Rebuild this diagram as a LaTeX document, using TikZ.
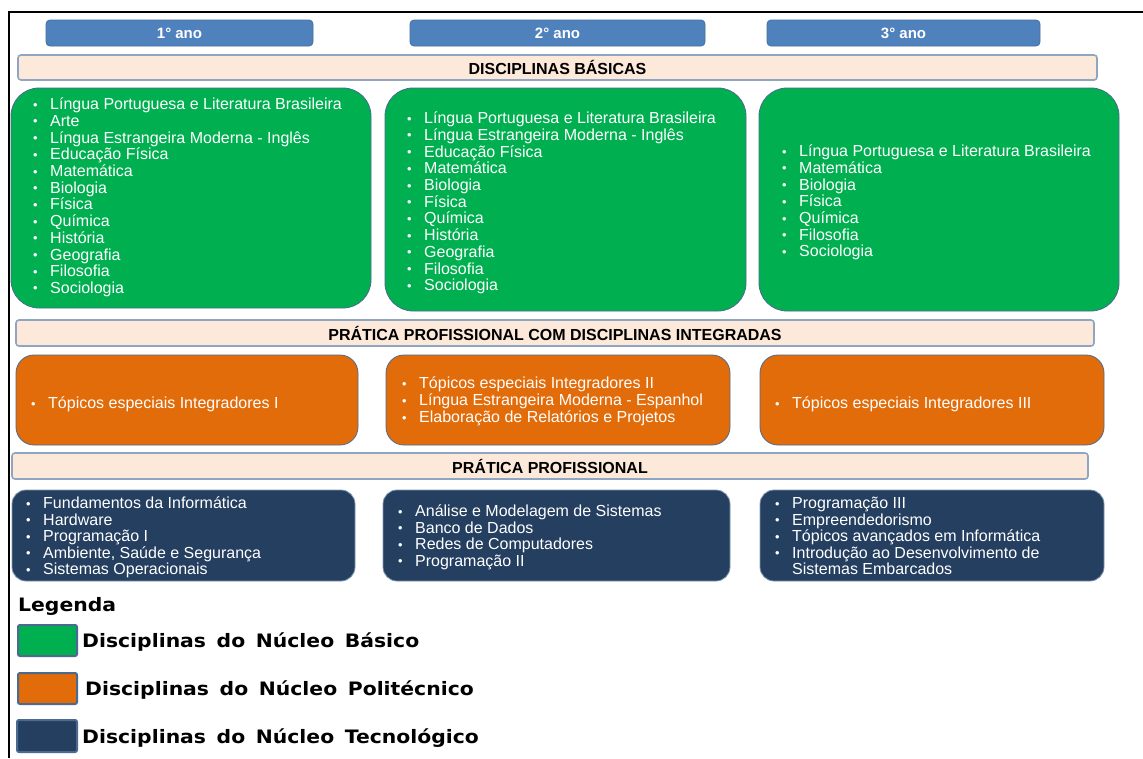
\documentclass[tikz,border=0pt]{standalone}
\usepackage{fontspec}
\setmainfont{Liberation Sans}
\newfontfamily\legfont[FakeStretch=1.1,WordSpace=1.5]{DejaVu Sans}
\usepackage{graphicx}
\definecolor{yearblue}{HTML}{4F81BD}
\definecolor{yearedge}{HTML}{41719C}
\definecolor{barfill}{HTML}{FDE9D9}
\definecolor{baredge}{HTML}{8FA5C2}
\definecolor{cgreen}{HTML}{00B050}
\definecolor{corange}{HTML}{E36C0A}
\definecolor{cnavy}{HTML}{243F60}
\definecolor{boxedge}{HTML}{4A6A90}
\newcommand\mkbox[7]{\node[#2, minimum width={(#5-#3)*1pt}, minimum height={(#6-#4)*1pt}] (#1) at ({(#3+#5)/2},{(#4+#6)/2}) {#7};}
\newcommand\itm[1]{\makebox[17pt][l]{\raisebox{0.5pt}{\scalebox{0.8}{\textbullet}}}#1}
\begin{document}
\begin{tikzpicture}[x=1pt,y=-1pt,
  yearbox/.style={fill=yearblue, draw=yearedge, line width=0.8pt, rounded corners=4pt, inner sep=0pt, text=white, font=\fontsize{15}{17}\selectfont\bfseries},
  barbox/.style={fill=barfill, draw=baredge, line width=1.6pt, rounded corners=3pt, inner sep=0pt, font=\fontsize{16}{18}\selectfont\bfseries},
  greenbox/.style={fill=cgreen, draw=boxedge, line width=0.8pt, rounded corners=28pt, inner sep=0pt},
  orangebox/.style={fill=corange, draw=boxedge, line width=0.8pt, rounded corners=18pt, inner sep=0pt},
  navybox/.style={fill=cnavy, draw=boxedge!70!white, line width=0.8pt, rounded corners=14pt, inner sep=0pt},
  gl/.style={anchor=north west, align=left, inner sep=0pt, text=white, font=\fontsize{16}{16.7}\selectfont},
  ol/.style={gl, font=\fontsize{16}{17}\selectfont},
  nl/.style={gl, font=\fontsize{16}{16.5}\selectfont},
  legsw/.style={draw=boxedge, line width=2pt, rounded corners=2pt, inner sep=0pt},
  legtx/.style={anchor=base west, inner sep=0pt, font=\fontsize{18.5}{20}\selectfont\legfont\bfseries}
]
\useasboundingbox (0,0) rectangle (1143,758);
\fill[white] (0,0) rectangle (1143,758);
\coordinate (fb) at (9,758);
\coordinate (fc) at (9,12);
\coordinate (fr) at (1143,12);
\draw[line width=2pt] (fb) -- (fc) -- (fr);

% year headers
\mkbox{y1}{yearbox}{46}{20}{313}{46}{1° ano}
\mkbox{y2}{yearbox}{410}{20}{705}{46}{2° ano}
\mkbox{y3}{yearbox}{767}{20}{1040}{46}{3° ano}

% bars
\mkbox{b1}{barbox}{18}{55}{1097}{80}{DISCIPLINAS BÁSICAS}
\mkbox{b2}{barbox}{16}{320}{1094}{346}{PRÁTICA PROFISSIONAL COM DISCIPLINAS INTEGRADAS}
\mkbox{b3}{barbox}{12}{453}{1088}{479}{PRÁTICA PROFISSIONAL}

% green boxes
\mkbox{g1}{greenbox}{11}{88}{371}{308}{}
\mkbox{g2}{greenbox}{385}{88}{746}{311}{}
\mkbox{g3}{greenbox}{759}{88}{1119}{311}{}
\node[gl] (g1t) at (33,94.5) {\rule{0pt}{15pt}\itm{Língua Portuguesa e Literatura Brasileira}\\
\itm{Arte}\\ \itm{Língua Estrangeira Moderna - Inglês}\\ \itm{Educação Física}\\
\itm{Matemática}\\ \itm{Biologia}\\ \itm{Física}\\ \itm{Química}\\ \itm{História}\\
\itm{Geografia}\\ \itm{Filosofia}\\ \itm{Sociologia}};
\node[gl] (g2t) at (407,108.5) {\rule{0pt}{15pt}\itm{Língua Portuguesa e Literatura Brasileira}\\
\itm{Língua Estrangeira Moderna - Inglês}\\ \itm{Educação Física}\\
\itm{Matemática}\\ \itm{Biologia}\\ \itm{Física}\\ \itm{Química}\\ \itm{História}\\
\itm{Geografia}\\ \itm{Filosofia}\\ \itm{Sociologia}};
\node[gl] (g3t) at (782,141.5) {\rule{0pt}{15pt}\itm{Língua Portuguesa e Literatura Brasileira}\\
\itm{Matemática}\\ \itm{Biologia}\\ \itm{Física}\\ \itm{Química}\\ \itm{Filosofia}\\ \itm{Sociologia}};

% orange boxes
\mkbox{o1}{orangebox}{16}{355}{358}{445}{}
\mkbox{o2}{orangebox}{386}{355}{730}{445}{}
\mkbox{o3}{orangebox}{760}{355}{1104}{445}{}
\node[ol] (o1t) at (31,393.5) {\rule{0pt}{15pt}\itm{Tópicos especiais Integradores I}};
\node[ol] (o2t) at (402,373.5) {\rule{0pt}{15pt}\itm{Tópicos especiais Integradores II}\\
\itm{Língua Estrangeira Moderna - Espanhol}\\ \itm{Elaboração de Relatórios e Projetos}};
\node[ol] (o3t) at (775,393.5) {\rule{0pt}{15pt}\itm{Tópicos especiais Integradores III}};

% navy boxes
\mkbox{n1}{navybox}{12}{490}{355}{581}{}
\mkbox{n2}{navybox}{383}{490}{730}{581}{}
\mkbox{n3}{navybox}{760}{490}{1104}{581}{}
\node[nl] (n1t) at (26,493.5) {\rule{0pt}{15pt}\itm{Fundamentos da Informática}\\ \itm{Hardware}\\
\itm{Programação I}\\ \itm{Ambiente, Saúde e Segurança}\\ \itm{Sistemas Operacionais}};
\node[nl] (n2t) at (398,501.5) {\rule{0pt}{15pt}\itm{Análise e Modelagem de Sistemas}\\ \itm{Banco de Dados}\\
\itm{Redes de Computadores}\\ \itm{Programação II}};
\node[nl] (n3t) at (775,493.5) {\rule{0pt}{15pt}\itm{Programação III}\\ \itm{Empreendedorismo}\\
\itm{Tópicos avançados em Informática}\\ \itm{Introdução ao Desenvolvimento de}\\ \hspace*{17pt}Sistemas Embarcados};

% legend
\node[legtx] (leg) at (18,611.5) {Legenda};
\mkbox{s1}{legsw, fill=cgreen}{18}{625}{77}{656}{}
\mkbox{s2}{legsw, fill=corange}{18}{673}{77}{704}{}
\mkbox{s3}{legsw, fill=cnavy}{17}{720}{77}{752}{}
\node[legtx] (l1) at (82,647) {Disciplinas do Núcleo Básico};
\node[legtx] (l2) at (85,695) {Disciplinas do Núcleo Politécnico};
\node[legtx] (l3) at (82,743) {Disciplinas do Núcleo Tecnológico};
\end{tikzpicture}
\end{document}
